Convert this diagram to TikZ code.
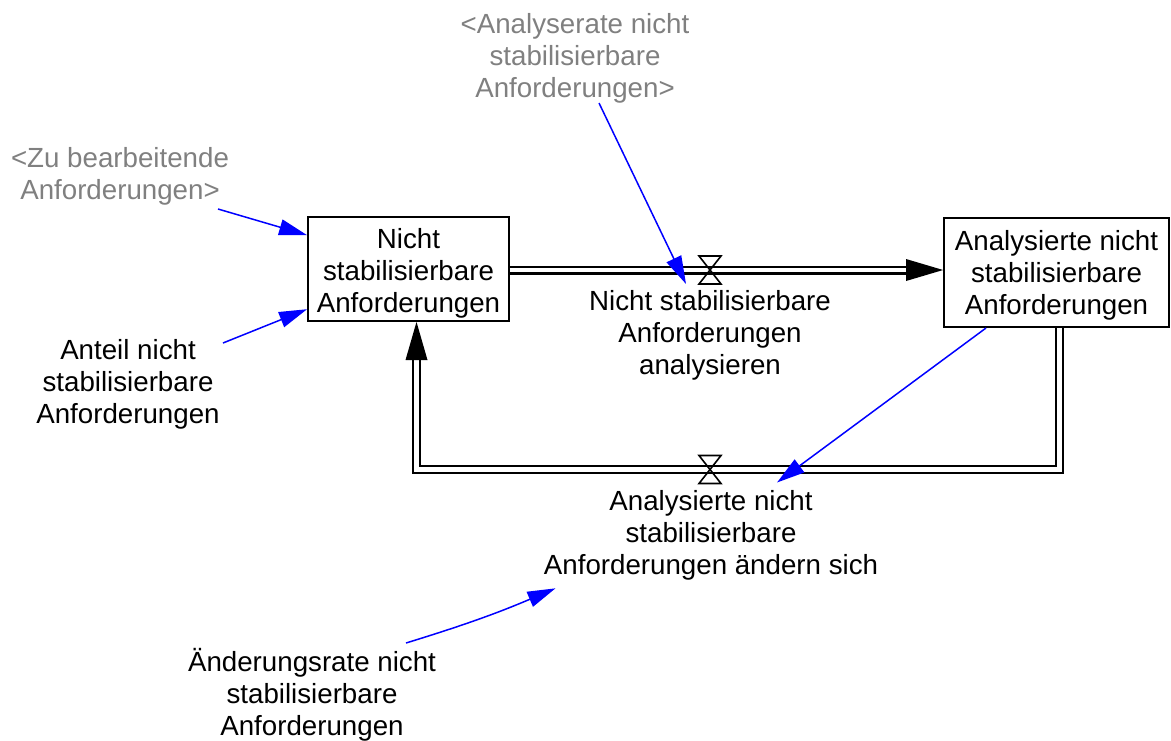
\documentclass[tikz,border=0pt]{standalone}
\usepackage{fontspec}
\setmainfont{Liberation Sans}
\usetikzlibrary{arrows.meta,calc}
\definecolor{shadowgray}{RGB}{128,128,128}
\definecolor{linkblue}{RGB}{0,0,255}

\begin{document}

\begin{tikzpicture}[x=0.5pt,y=-0.5pt,
  lbl/.style={align=center,inner sep=0pt,font=\fontsize{13.85}{16}\selectfont},
  shadow var/.style={lbl,text=shadowgray},
  stock/.style={draw,line width=0.9pt,inner sep=0pt},
  pipe/.style={line width=1.05pt,double distance=2.4pt,line join=miter},
  valve/.style={line width=0.8pt},
  link/.style={draw=linkblue,line width=0.75pt,-{Triangle[length=14pt,width=8pt,fill=linkblue]}}]
\useasboundingbox (0,0) rectangle (1171,740);

% stocks
\node[stock,minimum width=100.5pt,minimum height=52pt] (s1) at (408.5,269) {};
\node[lbl] (s1t) at ($(s1)+(0,4)$) {Nicht\\stabilisierbare\\Anforderungen};
\node[stock,minimum width=112.5pt,minimum height=54.5pt] (s2) at (1056.5,272.5) {};
\node[lbl] (s2t) at ($(s2)+(0,3)$) {Analysierte nicht\\stabilisierbare\\Anforderungen};

% pipe corners and valve centres
\coordinate (v1) at (710,270);
\coordinate (v2) at (710,469.5);
\coordinate (h1) at (906,270);
\coordinate (b1) at (1059.5,469.5);
\coordinate (b2) at (416.5,469.5);
\coordinate (b3) at (416.5,360);

% inflow/outflow pipes
\draw[pipe] (s1.east |- v1) -- (h1);
\fill (s2.west |- h1) -- ($(h1)+(0,-11)$) -- ($(h1)+(0,11)$) -- cycle;
\draw[pipe] (s2.south -| b1) -- (b1) -- (b2) -- (b3);
\fill (s1.south -| b3) -- ($(b3)+(-11,0)$) -- ($(b3)+(11,0)$) -- cycle;

% valves
\draw[valve] ($(v1)+(-11,-14)$) -- ($(v1)+(11,-14)$) -- ($(v1)+(-11,14)$) -- ($(v1)+(11,14)$) -- cycle;
\draw[valve] ($(v2)+(-11,-14)$) -- ($(v2)+(11,-14)$) -- ($(v2)+(-11,14)$) -- ($(v2)+(11,14)$) -- cycle;

% flow names
\node[lbl] (f1) at (710,335) {Nicht stabilisierbare\\Anforderungen\\analysieren};
\node[lbl] (f2) at (711,535) {Analysierte nicht\\stabilisierbare\\Anforderungen ändern sich};

% auxiliaries
\node[shadow var] (ar) at (575,58) {<Analyserate nicht\\stabilisierbare\\Anforderungen>};
\node[shadow var] (zu) at (120,176) {<Zu bearbeitende\\Anforderungen>};
\node[lbl] (an) at (128,384) {Anteil nicht\\stabilisierbare\\Anforderungen};
\node[lbl] (ae) at (312,695) {Änderungsrate nicht\\stabilisierbare\\Anforderungen};

% link tails
\coordinate (t1) at (599,103);
\coordinate (t2) at (218,209);
\coordinate (t3) at (223,343);
\coordinate (t4) at (986,328);
\coordinate (t5) at (406,643);

% information links
\draw[link] (t1) -- ($(v1)+(-24,14)$);
\draw[link] (t2) -- ($(s1.north west)!0.18!(s1.south west)$);
\draw[link] (t3) -- ($(s1.north west)!0.88!(s1.south west)$);
\draw[link] (t4) -- ($(v2)+(67,13)$);
\draw[link] (t5) to[bend right=3] ($(f2.south west)+(12,8)$);
\end{tikzpicture}

\end{document}
